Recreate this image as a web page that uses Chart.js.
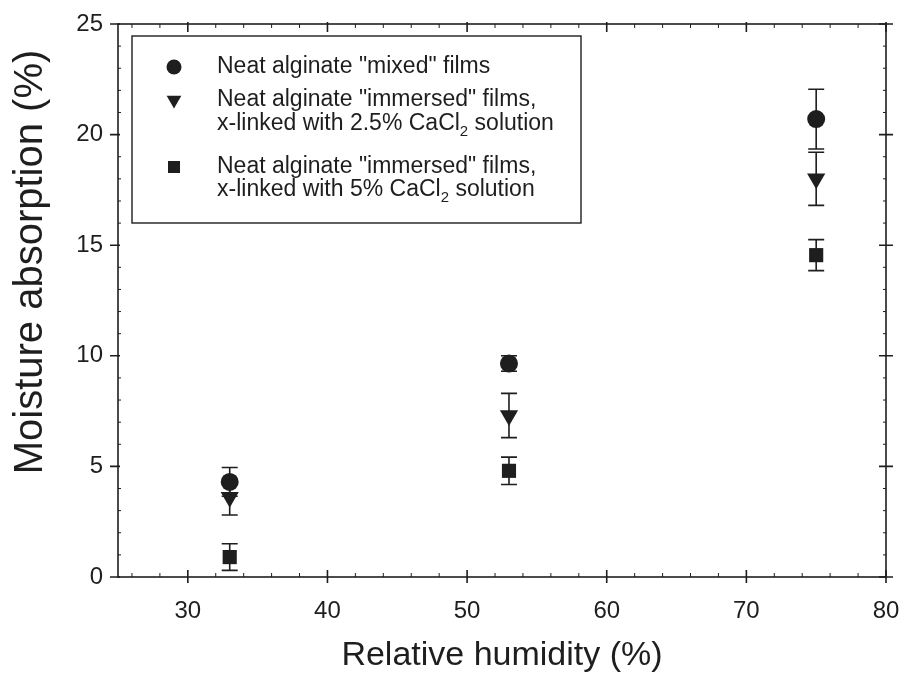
<!DOCTYPE html>
<html>
<head>
<meta charset="utf-8">
<script src="https://cdn.jsdelivr.net/npm/chart.js@4.4.0/dist/chart.umd.min.js"></script>
<style>
  html, body { margin: 0; padding: 0; background: #fff; }
  #wrap { width: 907px; height: 676px; }
</style>
</head>
<body>
<div id="wrap"><canvas id="moistureChart"></canvas></div>
<script>
// Relative humidity of the conditioning atmospheres (%)
const humidity = [33, 53, 75];

// Moisture absorption (%) with standard deviations
const mixedMean = [4.3, 9.65, 20.7];
const mixedSd = [0.65, 0.35, 1.35];
const immersed25Mean = [3.6, 7.3, 18.0];
const immersed25Sd = [0.8, 1.0, 1.2];
const immersed5Mean = [0.9, 4.8, 14.55];
const immersed5Sd = [0.6, 0.62, 0.7];

const xMajor = [30, 40, 50, 60, 70, 80];
const yMajor = [0, 5, 10, 15, 20, 25];

const yTitle = 'Moisture absorption (%)';

// legend rows: [text, subscript?] segments per line
const legendItems = [
    { style: 'circle', lines: [[['Neat alginate "mixed" films', false]]] },
    { style: 'triangle', lines: [
        [['Neat alginate "immersed" films,', false]],
        [['x-linked with 2.5% CaCl', false], ['2', true], [' solution', false]]
    ] },
    { style: 'rect', lines: [
        [['Neat alginate "immersed" films,', false]],
        [['x-linked with 5% CaCl', false], ['2', true], [' solution', false]]
    ] }
];

const INK = '#1e1e1e';
const FONT = '"Liberation Sans", Arial, sans-serif';

function toPoints(xs, ys) {
    return xs.map((x, i) => ({ x: x, y: ys[i] }));
}

function drawMarker(ctx, style, x, y, r) {
    ctx.beginPath();
    if (style === 'circle') {
        ctx.arc(x, y, r, 0, Math.PI * 2);
    } else if (style === 'triangle') {
        ctx.moveTo(x - r * 0.866, y - r * 0.5);
        ctx.lineTo(x + r * 0.866, y - r * 0.5);
        ctx.lineTo(x, y + r);
        ctx.closePath();
    } else {
        const s = r * Math.SQRT1_2;
        ctx.rect(x - s, y - s, 2 * s, 2 * s);
    }
    ctx.fill();
}

// Frame with major ticks crossing the axes and small inner minor ticks
const frameTicks = {
    id: 'frameTicks',
    beforeDatasetsDraw(chart) {
        const { ctx, chartArea: a, scales: { x, y } } = chart;
        ctx.save();
        ctx.strokeStyle = INK;
        ctx.lineWidth = 1.6;
        ctx.strokeRect(a.left, a.top, a.right - a.left, a.bottom - a.top);

        ctx.beginPath();
        xMajor.forEach(v => {
            const px = x.getPixelForValue(v);
            ctx.moveTo(px, a.bottom + 6); ctx.lineTo(px, a.bottom - 7);
            ctx.moveTo(px, a.top - 2); ctx.lineTo(px, a.top + 8);
        });
        yMajor.forEach(v => {
            const py = y.getPixelForValue(v);
            ctx.moveTo(a.left - 8, py); ctx.lineTo(a.left + 2, py);
            ctx.moveTo(a.right - 7, py); ctx.lineTo(a.right + 7, py);
        });
        ctx.stroke();

        ctx.lineWidth = 1;
        ctx.beginPath();
        for (let v = 26; v < 80; v += 2) {
            if (v % 10 === 0) continue;
            const px = x.getPixelForValue(v);
            ctx.moveTo(px, a.bottom); ctx.lineTo(px, a.bottom - 4);
            ctx.moveTo(px, a.top); ctx.lineTo(px, a.top + 4);
        }
        for (let v = 1; v < 25; v++) {
            if (v % 5 === 0) continue;
            const py = y.getPixelForValue(v);
            ctx.moveTo(a.left, py); ctx.lineTo(a.left + 3, py);
            ctx.moveTo(a.right, py); ctx.lineTo(a.right - 3, py);
        }
        ctx.stroke();

        // y axis title, sits a little above the axis centre
        ctx.fillStyle = INK;
        ctx.font = '40px ' + FONT;
        ctx.textAlign = 'center';
        ctx.textBaseline = 'middle';
        ctx.translate(31, 262);
        ctx.rotate(-Math.PI / 2);
        ctx.fillText(yTitle, 0, 0);
        ctx.restore();
    }
};

// Vertical error bars (mean ± sd) with caps
const errorBars = {
    id: 'errorBars',
    beforeDatasetsDraw(chart) {
        const { ctx, scales: { x, y } } = chart;
        ctx.save();
        ctx.strokeStyle = INK;
        ctx.lineWidth = 1.6;
        chart.data.datasets.forEach(ds => {
            ds.data.forEach((pt, i) => {
                const sd = ds.errors[i];
                const px = x.getPixelForValue(pt.x);
                const top = y.getPixelForValue(pt.y + sd);
                const bot = y.getPixelForValue(pt.y - sd);
                ctx.beginPath();
                ctx.moveTo(px, top); ctx.lineTo(px, bot);
                ctx.moveTo(px - 8, top); ctx.lineTo(px + 8, top);
                ctx.moveTo(px - 8, bot); ctx.lineTo(px + 8, bot);
                ctx.stroke();
            });
        });
        ctx.restore();
    }
};

// Boxed legend with subscripts
const boxLegend = {
    id: 'boxLegend',
    afterDraw(chart) {
        const ctx = chart.ctx;
        const box = { left: 132, top: 36, right: 581, bottom: 223 };
        const rowY = [[67], [100, 124], [167, 190]];
        ctx.save();
        ctx.strokeStyle = INK;
        ctx.lineWidth = 1.4;
        ctx.strokeRect(box.left, box.top, box.right - box.left, box.bottom - box.top);
        ctx.fillStyle = INK;
        ctx.textBaseline = 'middle';
        legendItems.forEach((item, i) => {
            drawMarker(ctx, item.style, 174, rowY[i][0], item.style === 'circle' ? 7.5 : 8.5);
            item.lines.forEach((segs, j) => {
                let tx = 217;
                const ty = rowY[i][j];
                segs.forEach(([text, sub]) => {
                    ctx.font = (sub ? '15px ' : '23px ') + FONT;
                    ctx.fillText(text, tx, sub ? ty + 8 : ty);
                    tx += ctx.measureText(text).width;
                });
            });
        });
        ctx.restore();
    }
};

const ctx = document.getElementById('moistureChart');

new Chart(ctx, {
    type: 'scatter',
    data: {
        datasets: [{
            label: 'Neat alginate "mixed" films',
            data: toPoints(humidity, mixedMean),
            errors: mixedSd,
            pointStyle: 'circle',
            pointRadius: 9,
            backgroundColor: INK,
            borderColor: INK,
            borderWidth: 0
        }, {
            label: 'Neat alginate "immersed" films, 2.5% CaCl2',
            data: toPoints(humidity, immersed25Mean),
            errors: immersed25Sd,
            pointStyle: 'triangle',
            rotation: 180,
            pointRadius: 10.5,
            backgroundColor: INK,
            borderColor: INK,
            borderWidth: 0
        }, {
            label: 'Neat alginate "immersed" films, 5% CaCl2',
            data: toPoints(humidity, immersed5Mean),
            errors: immersed5Sd,
            pointStyle: 'rect',
            pointRadius: 10,
            backgroundColor: INK,
            borderColor: INK,
            borderWidth: 0
        }]
    },
    options: {
        responsive: true,
        maintainAspectRatio: false,
        animation: false,
        layout: { padding: { left: 0, top: 24, right: 21, bottom: 0 } },
        plugins: {
            legend: { display: false },
            tooltip: { enabled: false }
        },
        scales: {
            x: {
                type: 'linear',
                min: 25,
                max: 80,
                grid: { display: false, drawTicks: false },
                border: { display: false },
                ticks: {
                    stepSize: 10,
                    padding: 20,
                    color: INK,
                    font: { family: FONT, size: 24 },
                    callback: v => (v % 10 === 0 ? v : '')
                },
                title: {
                    display: true,
                    text: 'Relative humidity (%)',
                    color: INK,
                    font: { family: FONT, size: 34 },
                    padding: { top: 6, bottom: 0 }
                },
                afterFit: scale => {
                    scale.height = 99;
                    scale.paddingLeft = 0;
                    scale.paddingRight = 0;
                }
            },
            y: {
                min: 0,
                max: 25,
                grid: { display: false, drawTicks: false },
                border: { display: false },
                ticks: {
                    stepSize: 5,
                    padding: 15,
                    color: INK,
                    font: { family: FONT, size: 24 }
                },
                afterFit: scale => {
                    scale.width = 118;
                    scale.paddingTop = 0;
                    scale.paddingBottom = 0;
                }
            }
        }
    },
    plugins: [frameTicks, errorBars, boxLegend]
});
</script>
</body>
</html>
